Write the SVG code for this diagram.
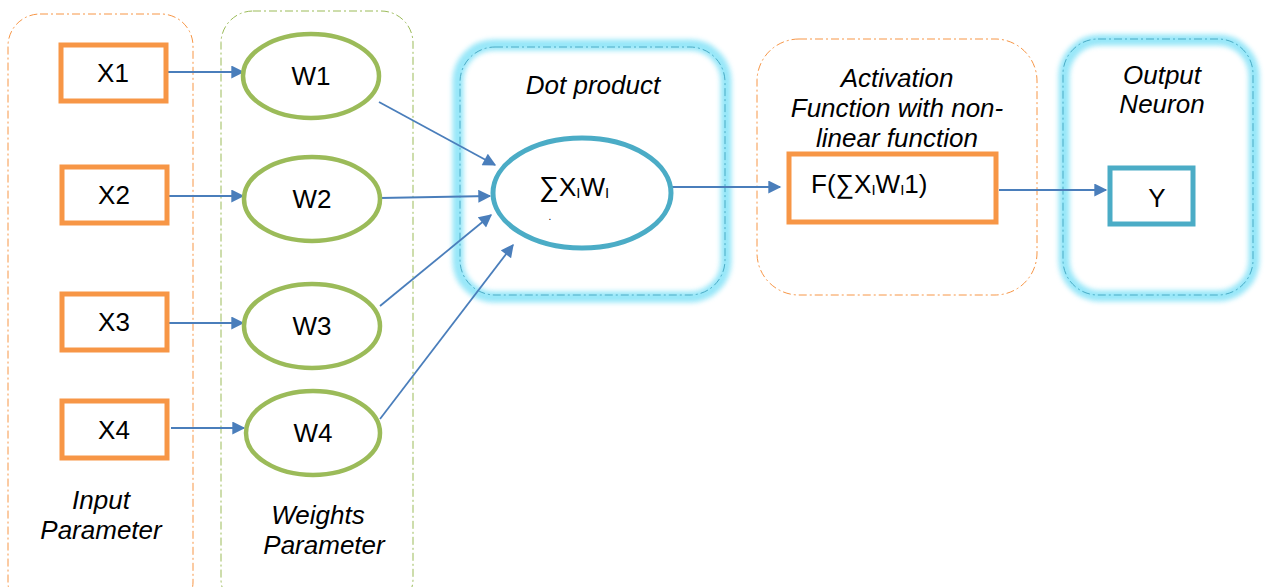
<svg xmlns="http://www.w3.org/2000/svg" width="1272" height="587" viewBox="0 0 1272 587">
<defs>
<style>
.t{font-family:"Liberation Sans",Arial,sans-serif;font-size:26px;fill:#000;text-anchor:middle}
.i{font-style:italic}
.xbox{fill:#fff;stroke:#F79646;stroke-width:5}
.wel{fill:#fff;stroke:#9BBB59;stroke-width:4.5}
.cyan{fill:#fff;stroke:#4BACC6;stroke-width:5}
.grpO{fill:none;stroke:#F79646;stroke-width:1;stroke-dasharray:8 3 2 3}
.grpG{fill:none;stroke:#9BBB59;stroke-width:1;stroke-dasharray:8 3 2 3}
.grpC{fill:none;stroke:#4BACC6;stroke-width:1;stroke-dasharray:8 3 2 3}
.glow{fill:none;stroke:#8CE4F8;stroke-width:11;opacity:0.9}
.con{stroke:#4A7EBB;stroke-width:1.8;fill:none;marker-end:url(#ah)}
</style>
<marker id="ah" viewBox="0 0 10 10" refX="9" refY="5" markerWidth="14" markerHeight="13" markerUnits="userSpaceOnUse" orient="auto">
<path d="M0,0 L10,5 L0,10 z" fill="#4A7EBB"/>
</marker>
<filter id="blur" x="-20%" y="-20%" width="140%" height="140%">
<feGaussianBlur stdDeviation="2.5"/>
</filter>
</defs>
<rect width="1272" height="587" fill="#fff"/>

<g id="group-input">
<rect class="grpO" x="8" y="14" width="185" height="600" rx="32"/>
<text class="t i" x="101" y="509">Input</text>
<text class="t i" x="101" y="539">Parameter</text>
</g>
<g id="group-weights">
<rect class="grpG" x="221" y="11" width="192" height="600" rx="32"/>
<text class="t i" x="318" y="524">Weights</text>
<text class="t i" x="324" y="554">Parameter</text>
</g>
<g id="group-dot">
<rect class="glow" x="458" y="45" width="268" height="252" rx="36" filter="url(#blur)"/>
<rect class="grpC" x="460" y="47" width="265" height="248" rx="35"/>
<text class="t i" x="593" y="94">Dot product</text>
</g>
<g id="group-activation">
<rect class="grpO" x="757" y="39" width="280" height="256" rx="42"/>
<text class="t i" x="897" y="87">Activation</text>
<text class="t i" x="897" y="117">Function with non-</text>
<text class="t i" x="897" y="147">linear function</text>
</g>
<g id="group-output">
<rect class="glow" x="1064" y="40" width="190" height="256" rx="36" filter="url(#blur)"/>
<rect class="grpC" x="1063" y="39" width="190" height="256" rx="35"/>
<text class="t i" x="1162" y="84">Output</text>
<text class="t i" x="1162" y="113">Neuron</text>
</g>

<g id="connectors">
<line class="con" x1="167" y1="72" x2="243" y2="72"/>
<line class="con" x1="169" y1="196" x2="243" y2="196"/>
<line class="con" x1="169" y1="323" x2="243" y2="323"/>
<line class="con" x1="171" y1="428" x2="244" y2="428"/>
<line class="con" x1="379" y1="102" x2="495" y2="165"/>
<line class="con" x1="380" y1="198" x2="490" y2="196"/>
<line class="con" x1="380" y1="306" x2="491" y2="215"/>
<line class="con" x1="380" y1="419" x2="513" y2="245"/>
<line class="con" x1="672" y1="187" x2="780" y2="187"/>
<line class="con" x1="999" y1="190" x2="1106" y2="190"/>
</g>

<g id="node-x1"><rect class="xbox" x="61" y="45" width="105" height="56"/><text class="t" x="113" y="82">X1</text></g>
<g id="node-x2"><rect class="xbox" x="62" y="167" width="105" height="56"/><text class="t" x="114" y="204">X2</text></g>
<g id="node-x3"><rect class="xbox" x="62" y="294" width="105" height="56"/><text class="t" x="114" y="331">X3</text></g>
<g id="node-x4"><rect class="xbox" x="62" y="401" width="105" height="57"/><text class="t" x="114" y="439">X4</text></g>

<g id="node-w1"><ellipse class="wel" cx="311" cy="76" rx="68" ry="42"/><text class="t" x="311" y="85">W1</text></g>
<g id="node-w2"><ellipse class="wel" cx="312" cy="199" rx="68" ry="42"/><text class="t" x="312" y="208">W2</text></g>
<g id="node-w3"><ellipse class="wel" cx="312" cy="326" rx="68" ry="42"/><text class="t" x="312" y="335">W3</text></g>
<g id="node-w4"><ellipse class="wel" cx="313" cy="433" rx="67" ry="42"/><text class="t" x="313" y="442">W4</text></g>

<g id="node-sum">
<ellipse class="cyan" cx="582" cy="193" rx="89" ry="55"/>
<text class="t" x="539" y="196" style="text-anchor:start"><tspan font-size="28">∑</tspan>X<tspan font-size="15" dy="2">I</tspan><tspan dy="-2">W</tspan><tspan font-size="15" dy="2">I</tspan></text>
<text class="t" x="550" y="220" style="font-size:10px">.</text>
</g>

<g id="node-f">
<rect class="xbox" x="789" y="154" width="207" height="68"/>
<text class="t" x="811" y="193" style="text-anchor:start">F(∑X<tspan font-size="15" dy="2">I</tspan><tspan dy="-2">W</tspan><tspan font-size="15" dy="2">I</tspan><tspan dy="-2">1)</tspan></text>
</g>

<g id="node-y">
<rect class="cyan" x="1110" y="168" width="83" height="56"/>
<text class="t" x="1157" y="207">Y</text>
</g>
</svg>
